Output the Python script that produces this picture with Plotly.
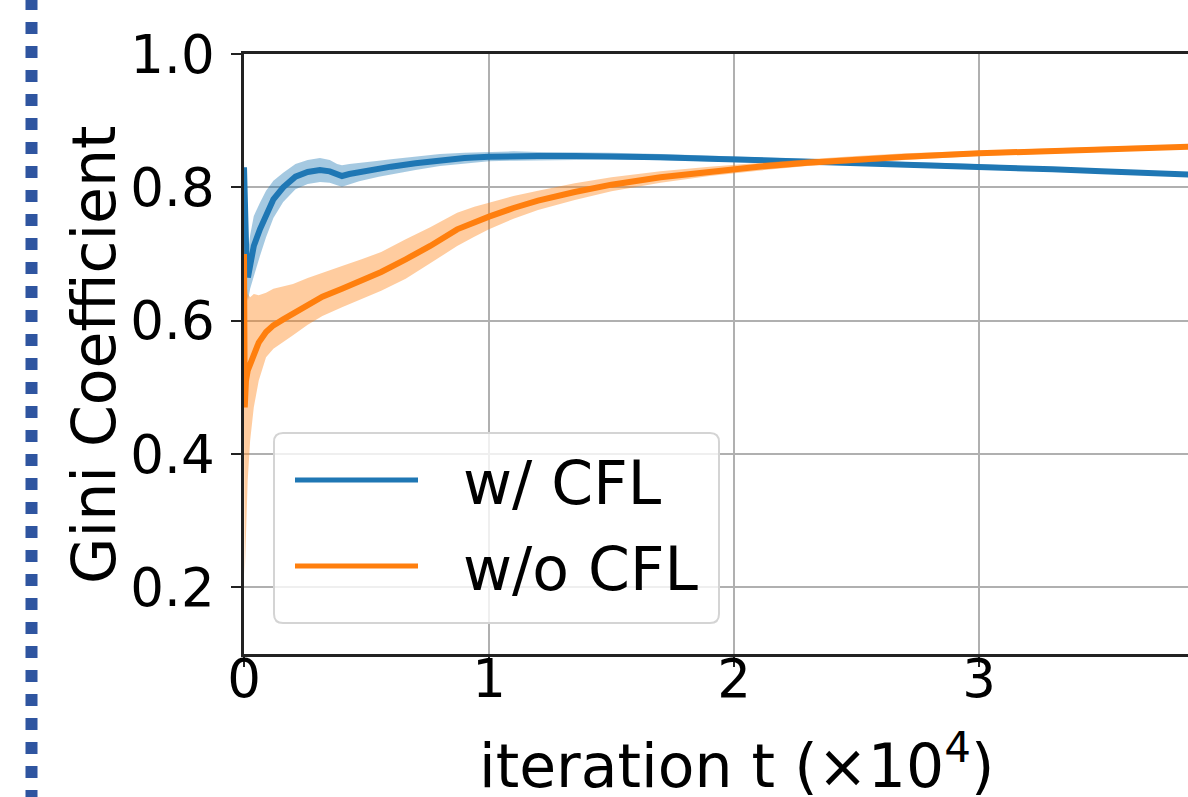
import plotly.graph_objects as go

# ---------------- data (x in units of 1e4 iterations) ----------------
x_blue = [0, 0.004, 0.01, 0.016, 0.025, 0.04, 0.065, 0.09, 0.12, 0.16,
          0.21, 0.26, 0.31, 0.35, 0.38, 0.40, 0.43, 0.47, 0.55, 0.6,
          0.7, 0.8, 0.9, 1.0, 1.1, 1.2, 1.35, 1.5, 1.7, 1.9,
          2.1, 2.3, 2.5, 2.7, 2.9, 3.1, 3.3, 3.5, 3.7, 3.86]
blue_mean = [0.83, 0.72, 0.69, 0.665, 0.688, 0.712, 0.737, 0.76, 0.782, 0.80,
             0.816, 0.823, 0.826, 0.824, 0.819, 0.817, 0.820, 0.823, 0.828, 0.831,
             0.836, 0.841, 0.844, 0.846, 0.847, 0.847, 0.847, 0.847, 0.845, 0.843,
             0.841, 0.839, 0.837, 0.835, 0.833, 0.830, 0.827, 0.824, 0.821, 0.819]
blue_spread = [0.01, 0.05, 0.05, 0.035, 0.04, 0.045, 0.04, 0.035, 0.028, 0.022,
               0.019, 0.018, 0.018, 0.017, 0.016, 0.016, 0.015, 0.014, 0.012, 0.011,
               0.010, 0.009, 0.008, 0.007, 0.007, 0.006, 0.006, 0.005, 0.005, 0.004,
               0.004, 0.004, 0.003, 0.003, 0.003, 0.003, 0.003, 0.003, 0.003, 0.003]

x_orange = [0, 0.003, 0.008, 0.015, 0.025, 0.04, 0.06, 0.09, 0.12, 0.16,
            0.2, 0.26, 0.32, 0.4, 0.48, 0.56, 0.66, 0.76, 0.87, 0.94,
            1.0, 1.1, 1.2, 1.35, 1.5, 1.7, 1.9, 2.1, 2.3, 2.5,
            2.7, 3.0, 3.3, 3.6, 3.86]
orange_mean = [0.70, 0.47, 0.51, 0.525, 0.535, 0.55, 0.567, 0.583, 0.593, 0.602,
               0.61, 0.624, 0.636, 0.648, 0.661, 0.673, 0.692, 0.712, 0.737, 0.748,
               0.756, 0.769, 0.780, 0.793, 0.804, 0.815, 0.824, 0.831, 0.837, 0.842,
               0.846, 0.851, 0.855, 0.858, 0.861]
orange_lo = [0.45, 0.22, 0.27, 0.36, 0.42, 0.47, 0.51, 0.545, 0.558, 0.568,
             0.578, 0.594, 0.607, 0.62, 0.633, 0.645, 0.663, 0.686, 0.712, 0.726,
             0.737, 0.753, 0.766, 0.781, 0.794, 0.807, 0.817, 0.825, 0.832, 0.837,
             0.841, 0.847, 0.851, 0.855, 0.858]
orange_hi = [0.72, 0.68, 0.66, 0.64, 0.635, 0.64, 0.638, 0.642, 0.648, 0.652,
             0.655, 0.664, 0.672, 0.682, 0.692, 0.703, 0.722, 0.740, 0.762, 0.771,
             0.777, 0.787, 0.795, 0.806, 0.815, 0.824, 0.831, 0.837, 0.842, 0.847,
             0.851, 0.855, 0.859, 0.862, 0.864]

series_names = ["w/ CFL", "w/o CFL"]
x_ticks = [0, 1, 2, 3]
y_ticks = [0.2, 0.4, 0.6, 0.8, 1.0]
x_title = "iteration t (×10<sup>4</sup>)"
y_title = "Gini Coefficient"

BLUE = "#1f77b4"
ORANGE = "#ff7f0e"
FONT = "DejaVu Sans"
TICK_SIZE = 53
TEXT_SIZE = 60

blue_lo = [m - s for m, s in zip(blue_mean, blue_spread)]
blue_hi = [m + s for m, s in zip(blue_mean, blue_spread)]

fig = go.Figure()

# blue band + line
fig.add_trace(go.Scatter(x=x_blue + x_blue[::-1], y=blue_hi + blue_lo[::-1],
                         fill="toself", fillcolor="rgba(31,119,180,0.4)",
                         line=dict(width=0), mode="lines", hoverinfo="skip",
                         showlegend=False))
fig.add_trace(go.Scatter(x=x_blue, y=blue_mean, mode="lines", name=series_names[0],
                         line=dict(color=BLUE, width=6), showlegend=False))
# orange band + line
fig.add_trace(go.Scatter(x=x_orange + x_orange[::-1], y=orange_hi + orange_lo[::-1],
                         fill="toself", fillcolor="rgba(255,127,14,0.4)",
                         line=dict(width=0), mode="lines", hoverinfo="skip",
                         showlegend=False))
fig.add_trace(go.Scatter(x=x_orange, y=orange_mean, mode="lines", name=series_names[1],
                         line=dict(color=ORANGE, width=6), showlegend=False))

W, H = 1188, 797
L, R, T, B = 244, 0, 54, 143
PW, PH = W - L - R, H - T - B


def px(xp):
    return (xp - L) / PW


def py(yp):
    return (H - B - yp) / PH


axis_common = dict(
    showline=True, linecolor="#222222", linewidth=2.5,
    ticks="outside", ticklen=10, tickwidth=2, tickcolor="#222222",
    showgrid=True, gridcolor="#b0b0b0", gridwidth=2,
    zeroline=False, automargin=False,
    tickfont=dict(family=FONT, size=TICK_SIZE, color="black"),
)

fig.update_layout(
    width=W, height=H,
    margin=dict(l=L, r=R, t=T, b=B, pad=0, autoexpand=False),
    paper_bgcolor="white", plot_bgcolor="white",
    showlegend=False,
    xaxis=dict(range=[0, (W - L) / 245.0], tickvals=x_ticks,
               ticktext=[str(v) for v in x_ticks], mirror=True,
               ticklabelstandoff=-33, **axis_common),
    yaxis=dict(range=[0.1, 1.0], tickvals=y_ticks,
               ticktext=["%.1f" % v for v in y_ticks],
               ticklabelstandoff=6, **axis_common),
)

# axis titles
fig.add_annotation(text=x_title, xref="paper", yref="paper",
                   x=px(736), y=py(762), xanchor="center", yanchor="middle",
                   showarrow=False, font=dict(family=FONT, size=TEXT_SIZE, color="black"))
fig.add_annotation(text=y_title, xref="paper", yref="paper",
                   x=px(94), y=py(355), xanchor="center", yanchor="middle",
                   textangle=-90, showarrow=False,
                   font=dict(family=FONT, size=TEXT_SIZE, color="black"))

# legend (drawn manually to match the large matplotlib-style legend)
x0, x1, y0, y1 = px(274), px(719), py(623), py(433)
rx, ry = 9 / PW, 9 / PH
path = (f"M {x0+rx},{y0} L {x1-rx},{y0} Q {x1},{y0} {x1},{y0+ry} "
        f"L {x1},{y1-ry} Q {x1},{y1} {x1-rx},{y1} L {x0+rx},{y1} "
        f"Q {x0},{y1} {x0},{y1-ry} L {x0},{y0+ry} Q {x0},{y0} {x0+rx},{y0} Z")
fig.add_shape(type="path", path=path, xref="paper", yref="paper",
              fillcolor="rgba(255,255,255,0.8)", line=dict(color="#d4d4d4", width=2))
for name, color, yl in [(series_names[0], BLUE, 480), (series_names[1], ORANGE, 566)]:
    fig.add_shape(type="line", xref="paper", yref="paper",
                  x0=px(295), x1=px(418), y0=py(yl), y1=py(yl),
                  line=dict(color=color, width=5))
    fig.add_annotation(text=name, xref="paper", yref="paper",
                       x=px(461), y=py(yl + 3), xanchor="left", yanchor="middle",
                       showarrow=False, font=dict(family=FONT, size=TEXT_SIZE, color="black"))

# dotted vertical separator on the far left
fig.add_shape(type="line", xref="paper", yref="paper",
              x0=px(31.5), x1=px(31.5), y0=py(-2), y1=py(800),
              line=dict(color="#2f55a0", width=12, dash="12px,12px"))

fig.write_html("out.html",
               config={"displayModeBar": False},
               post_script="document.body.style.margin='0';"
                           "document.body.style.overflow='hidden';")
